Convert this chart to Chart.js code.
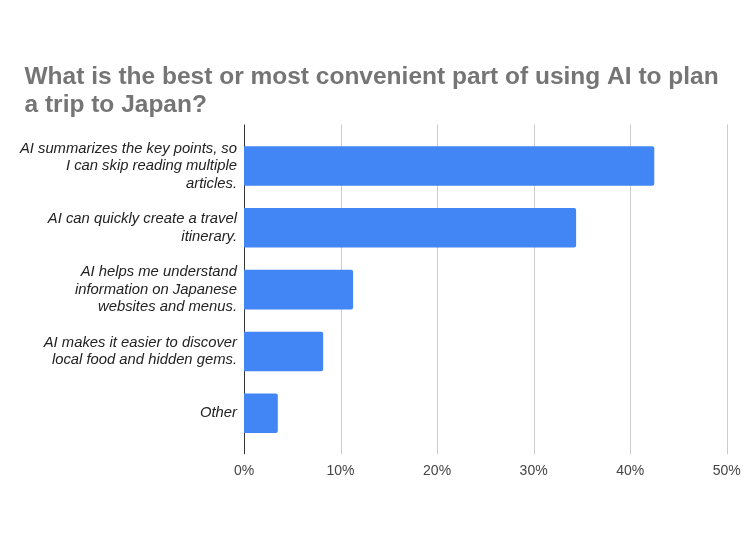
<!DOCTYPE html>
<html>
<head>
<meta charset="utf-8">
<script src="https://cdn.jsdelivr.net/npm/chart.js@4.4.1/dist/chart.umd.min.js"></script>
<style>
  html, body { margin: 0; padding: 0; background: #ffffff; }
  #wrap { width: 750px; height: 536px; position: relative; }
</style>
</head>
<body>
<div id="wrap"><canvas id="c" width="750" height="536"></canvas></div>
<script>
const titleLines = ["What is the best or most convenient part of using AI to plan", "a trip to Japan?"];
const categories = [
  ["AI summarizes the key points, so", "I can skip reading multiple", "articles."],
  ["AI can quickly create a travel", "itinerary."],
  ["AI helps me understand", "information on Japanese", "websites and menus."],
  ["AI makes it easier to discover", "local food and hidden gems."],
  ["Other"]
];
const values = [42.5, 34.4, 11.3, 8.2, 3.5];
const xTicks = [0, 10, 20, 30, 40, 50];

const FONT = "'Liberation Sans', Arial, sans-serif";

const gridPlugin = {
  id: 'extGrid',
  beforeDatasetsDraw(chart) {
    const { ctx, chartArea, scales } = chart;
    const xs = scales.x;
    ctx.save();
    ctx.lineWidth = 1;
    xs.ticks.forEach(t => {
      const px = Math.round(xs.getPixelForValue(t.value)) + 0.5;
      ctx.strokeStyle = t.value === 0 ? '#333333' : '#cccccc';
      ctx.beginPath();
      ctx.moveTo(px, chartArea.top - 10.5);
      ctx.lineTo(px, chartArea.bottom + 10);
      ctx.stroke();
    });
    ctx.restore();
  }
};

const titlePlugin = {
  id: 'leftTitle',
  afterDraw(chart) {
    const ctx = chart.ctx;
    ctx.save();
    ctx.fillStyle = '#757575';
    ctx.font = "bold 24.5px " + FONT;
    ctx.textAlign = 'left';
    ctx.textBaseline = 'alphabetic';
    titleLines.forEach((line, i) => ctx.fillText(line, 24.5, 83.5 + i * 28.5));
    ctx.restore();
  }
};

new Chart(document.getElementById('c'), {
  type: 'bar',
  data: {
    labels: categories,
    datasets: [{
      data: values,
      backgroundColor: '#4285F4',
      borderWidth: 0,
      borderRadius: 2,
      barPercentage: 0.64,
      categoryPercentage: 1.0
    }]
  },
  plugins: [gridPlugin, titlePlugin],
  options: {
    indexAxis: 'y',
    responsive: false,
    animation: false,
    layout: { padding: { left: 4, right: 23.3, top: 135, bottom: 56 } },
    plugins: {
      legend: { display: false },
      tooltip: { enabled: false },
      title: { display: false }
    },
    scales: {
      x: {
        type: 'linear',
        min: 0,
        max: 50,
        afterBuildTicks(scale) { scale.ticks = xTicks.map(v => ({ value: v })); },
        grid: { display: false, drawTicks: true, tickLength: 19 },
        border: { display: false },
        ticks: {
          padding: 0,
          color: '#444444',
          font: { family: FONT, size: 14 },
          callback: v => v + '%'
        }
      },
      y: {
        grid: { display: false, drawTicks: false },
        border: { display: false },
        afterFit(scale) { scale.width = 240; },
        ticks: {
          padding: 7,
          color: '#222222',
          font: { family: FONT, size: 14.8, style: 'italic', lineHeight: 1.18 }
        }
      }
    }
  }
});
</script>
</body>
</html>
